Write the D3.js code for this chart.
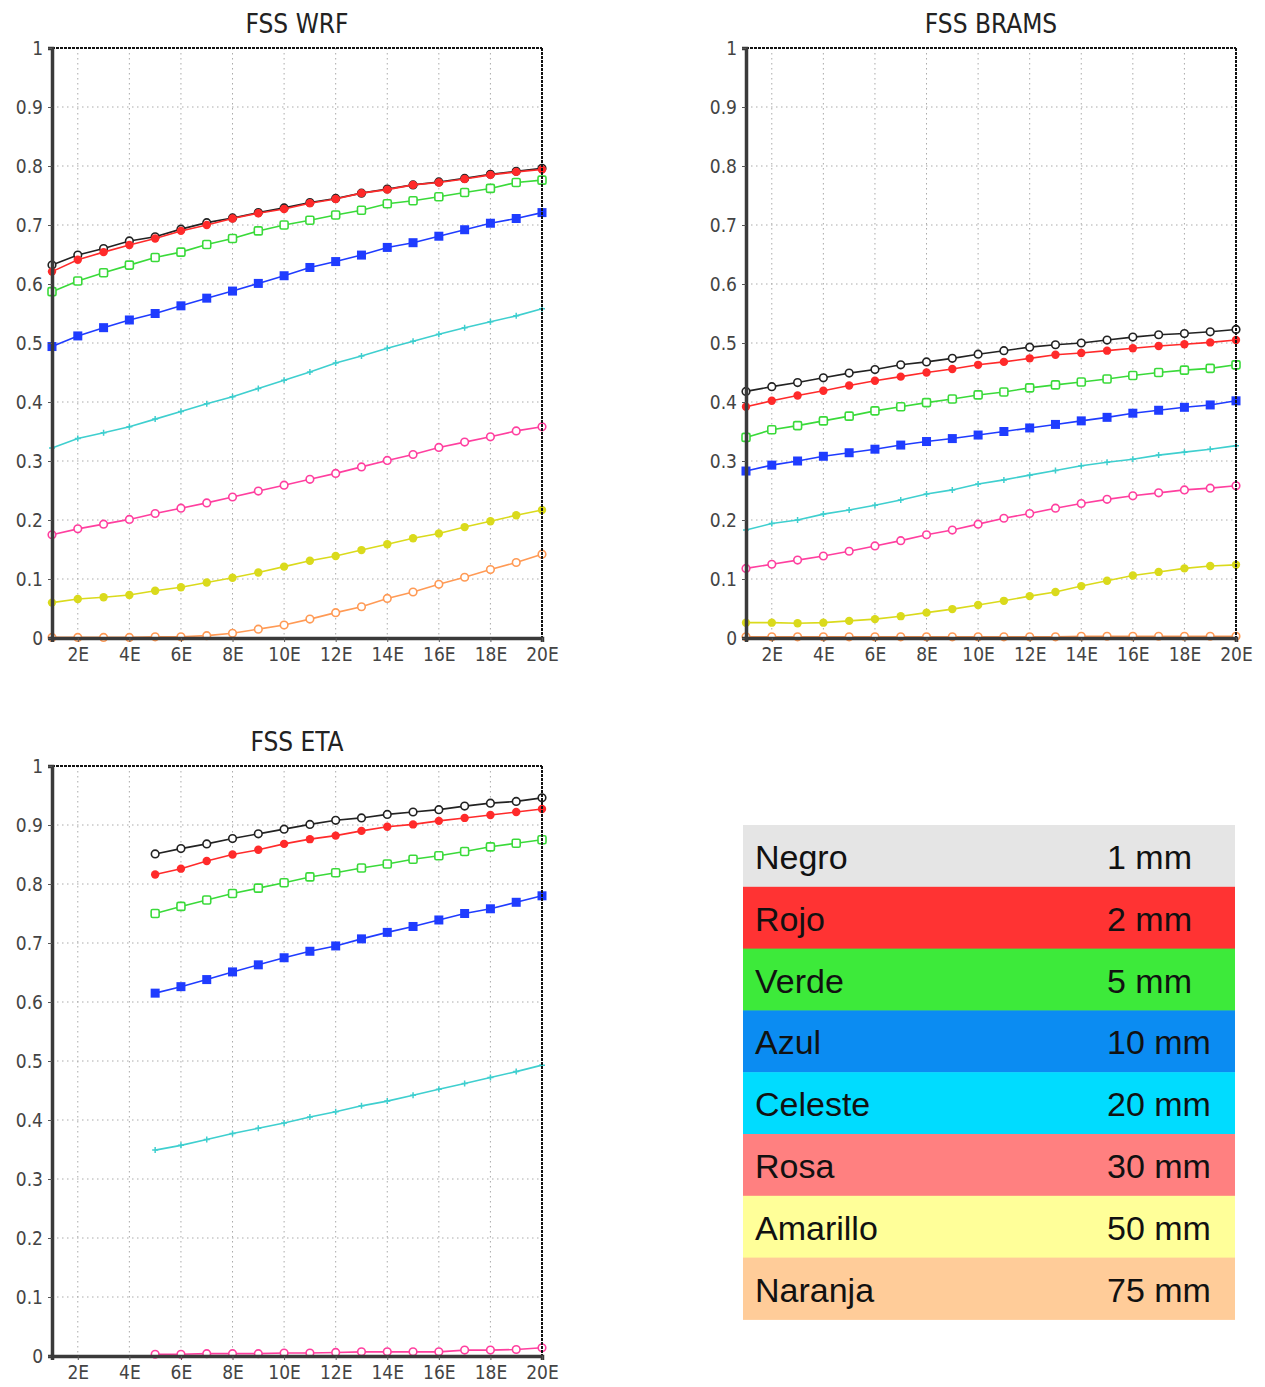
<!DOCTYPE html>
<html lang="es">
<head>
<meta charset="UTF-8">
<title>FSS</title>
<script src="https://d3js.org/d3.v7.min.js"></script>
<style>
  body { margin: 0; background: #fff; }
  text { font-family: "DejaVu Sans Condensed", "DejaVu Sans", sans-serif; }
  .leg { font-family: "Liberation Sans", Arial, sans-serif; }
</style>
</head>
<body>
<script>
// lead times (days), x axis
var leads = [1,2,3,4,5,6,7,8,9,10,11,12,13,14,15,16,17,18,19,20];
var xTicks = [2,4,6,8,10,12,14,16,18,20];
var yTicks = [0,0.1,0.2,0.3,0.4,0.5,0.6,0.7,0.8,0.9,1];

var names = ["Negro","Rojo","Verde","Azul","Celeste","Rosa","Amarillo","Naranja"];
var thresholds = ["1 mm","2 mm","5 mm","10 mm","20 mm","30 mm","50 mm","75 mm"];
var legendColors = ["#e5e5e5","#ff3333","#3dea3a","#0b8cf2","#00dcff","#ff8080","#ffff99","#ffcc99"];
var lineColors = ["#222","#ff2a2a","#3ada3a","#1f3cff","#3fcfcf","#ff3f9f","#dada1c","#ff9a55"];
var markers = ["ocircle","circle","osquare","square","plus","ocircle","circle","ocircle"];

// FSS WRF
var wrfNegro   = [0.632,0.649,0.660,0.673,0.680,0.693,0.704,0.712,0.721,0.729,0.738,0.745,0.754,0.761,0.768,0.773,0.779,0.786,0.791,0.796];
var wrfRojo    = [0.621,0.641,0.654,0.666,0.677,0.690,0.700,0.711,0.720,0.727,0.737,0.744,0.754,0.760,0.768,0.772,0.778,0.785,0.790,0.794];
var wrfVerde   = [0.587,0.605,0.619,0.632,0.645,0.654,0.667,0.677,0.690,0.700,0.708,0.717,0.725,0.736,0.741,0.748,0.755,0.762,0.772,0.776];
var wrfAzul    = [0.494,0.512,0.526,0.539,0.550,0.563,0.576,0.588,0.601,0.614,0.628,0.638,0.649,0.662,0.670,0.681,0.692,0.703,0.711,0.721];
var wrfCeleste = [0.322,0.338,0.348,0.358,0.371,0.384,0.397,0.409,0.423,0.437,0.451,0.466,0.478,0.491,0.503,0.515,0.526,0.536,0.546,0.558];
var wrfRosa    = [0.175,0.185,0.193,0.201,0.211,0.220,0.229,0.239,0.249,0.259,0.269,0.279,0.290,0.301,0.311,0.323,0.332,0.341,0.351,0.358];
var wrfAmarillo= [0.060,0.066,0.069,0.073,0.080,0.086,0.094,0.102,0.111,0.121,0.131,0.139,0.149,0.159,0.169,0.177,0.188,0.198,0.208,0.217];
var wrfNaranja = [0.001,0.001,0.001,0.001,0.002,0.002,0.004,0.008,0.015,0.022,0.032,0.043,0.053,0.067,0.078,0.091,0.103,0.116,0.128,0.142];

// FSS BRAMS
var bramsNegro   = [0.418,0.426,0.433,0.441,0.449,0.455,0.463,0.468,0.474,0.481,0.487,0.493,0.497,0.500,0.505,0.510,0.514,0.516,0.519,0.523];
var bramsRojo    = [0.392,0.402,0.411,0.419,0.428,0.436,0.443,0.450,0.456,0.463,0.468,0.474,0.480,0.483,0.487,0.491,0.495,0.498,0.501,0.505];
var bramsVerde   = [0.340,0.353,0.360,0.368,0.376,0.385,0.392,0.399,0.405,0.412,0.417,0.424,0.429,0.434,0.439,0.445,0.450,0.454,0.457,0.463];
var bramsAzul    = [0.283,0.293,0.300,0.308,0.314,0.320,0.327,0.333,0.338,0.344,0.350,0.356,0.362,0.368,0.374,0.381,0.386,0.391,0.395,0.402];
var bramsCeleste = [0.183,0.194,0.200,0.210,0.217,0.225,0.234,0.244,0.251,0.261,0.268,0.276,0.284,0.292,0.298,0.303,0.310,0.315,0.320,0.326];
var bramsRosa    = [0.118,0.125,0.132,0.139,0.147,0.156,0.165,0.175,0.183,0.193,0.203,0.211,0.220,0.228,0.235,0.241,0.246,0.251,0.254,0.258];
var bramsAmarillo= [0.026,0.026,0.025,0.026,0.029,0.032,0.037,0.043,0.049,0.056,0.063,0.071,0.078,0.088,0.097,0.106,0.112,0.118,0.122,0.124];
var bramsNaranja = [0.002,0.002,0.002,0.002,0.002,0.002,0.002,0.002,0.002,0.002,0.002,0.002,0.002,0.003,0.003,0.003,0.003,0.003,0.003,0.003];

// FSS ETA (no data before day 5)
var etaNegro   = [null,null,null,null,0.851,0.860,0.868,0.877,0.885,0.893,0.901,0.908,0.912,0.918,0.922,0.926,0.932,0.937,0.940,0.946];
var etaRojo    = [null,null,null,null,0.816,0.826,0.839,0.850,0.858,0.868,0.876,0.882,0.890,0.897,0.901,0.907,0.912,0.917,0.922,0.927];
var etaVerde   = [null,null,null,null,0.750,0.762,0.773,0.784,0.793,0.802,0.812,0.819,0.827,0.834,0.842,0.848,0.855,0.863,0.869,0.875];
var etaAzul    = [null,null,null,null,0.615,0.626,0.638,0.651,0.663,0.675,0.686,0.695,0.707,0.718,0.728,0.739,0.750,0.758,0.769,0.780];
var etaCeleste = [null,null,null,null,0.349,0.357,0.367,0.377,0.386,0.395,0.405,0.414,0.424,0.432,0.442,0.452,0.462,0.472,0.482,0.493];
var etaRosa    = [null,null,null,null,0.003,0.003,0.004,0.004,0.004,0.005,0.005,0.006,0.007,0.007,0.007,0.007,0.010,0.010,0.011,0.014];

var W = 1265, H = 1387;
var svg = d3.select("body").append("svg").attr("width", W).attr("height", H);

var panels = [
  {title: "FSS WRF",   left: 52,  top: 48,  series: [wrfNegro,wrfRojo,wrfVerde,wrfAzul,wrfCeleste,wrfRosa,wrfAmarillo,wrfNaranja]},
  {title: "FSS BRAMS", left: 746, top: 48,  series: [bramsNegro,bramsRojo,bramsVerde,bramsAzul,bramsCeleste,bramsRosa,bramsAmarillo,bramsNaranja]},
  {title: "FSS ETA",   left: 52,  top: 766, series: [etaNegro,etaRojo,etaVerde,etaAzul,etaCeleste,etaRosa]}
];
var pw = 490, ph = 590;

function drawMarker(g, type, color, cx, cy) {
  if (type == "circle") {
    g.append("circle").attr("cx", cx).attr("cy", cy).attr("r", 4.2).attr("fill", color);
  } else if (type == "ocircle") {
    g.append("circle").attr("cx", cx).attr("cy", cy).attr("r", 3.8)
      .attr("fill", "#fff").attr("stroke", color).attr("stroke-width", 1.6);
  } else if (type == "square") {
    g.append("rect").attr("x", cx - 4.5).attr("y", cy - 4.5).attr("width", 9).attr("height", 9).attr("fill", color);
  } else if (type == "osquare") {
    g.append("rect").attr("x", cx - 4).attr("y", cy - 4).attr("width", 8).attr("height", 8).attr("rx", 1.5)
      .attr("fill", "#fff").attr("stroke", color).attr("stroke-width", 1.6);
  } else if (type == "plus") {
    g.append("path").attr("d", "M" + (cx - 3) + "," + cy + "h6M" + cx + "," + (cy - 3) + "v6")
      .attr("stroke", color).attr("stroke-width", 1.5);
  }
}

panels.forEach(function(p) {
  var x = d3.scaleLinear().domain([1, 20]).range([p.left, p.left + pw]);
  var y = d3.scaleLinear().domain([0, 1]).range([p.top + ph, p.top]);
  var g = svg.append("g");

  // grid
  g.selectAll(".hg").data(yTicks.slice(1, -1)).enter().append("line")
    .attr("x1", p.left).attr("x2", p.left + pw)
    .attr("y1", function(d){ return y(d); }).attr("y2", function(d){ return y(d); })
    .attr("stroke", "#aaa").attr("stroke-width", 1).attr("stroke-dasharray", "1.5,3.5");
  g.selectAll(".vg").data(xTicks.slice(0, -1)).enter().append("line")
    .attr("x1", function(d){ return x(d); }).attr("x2", function(d){ return x(d); })
    .attr("y1", p.top).attr("y2", p.top + ph)
    .attr("stroke", "#aaa").attr("stroke-width", 1).attr("stroke-dasharray", "1.5,3.5");

  // series
  p.series.forEach(function(vals, i) {
    var pts = leads.map(function(d, k){ return [d, vals[k]]; }).filter(function(d){ return d[1] != null; });
    var line = d3.line().x(function(d){ return x(d[0]); }).y(function(d){ return y(d[1]); });
    g.append("path").datum(pts).attr("d", line).attr("fill", "none")
      .attr("stroke", lineColors[i]).attr("stroke-width", 1.6);
    pts.forEach(function(d) { drawMarker(g, markers[i], lineColors[i], x(d[0]), y(d[1])); });
  });

  // frame
  g.append("line").attr("x1", p.left).attr("x2", p.left + pw).attr("y1", p.top).attr("y2", p.top)
    .attr("stroke", "#111").attr("stroke-width", 2).attr("stroke-dasharray", "3,1");
  g.append("line").attr("x1", p.left + pw).attr("x2", p.left + pw).attr("y1", p.top).attr("y2", p.top + ph)
    .attr("stroke", "#111").attr("stroke-width", 2).attr("stroke-dasharray", "3,1");

  var yAxis = d3.axisLeft(y).tickValues(yTicks).tickSize(4).tickPadding(5)
    .tickFormat(function(d){ return d == 0 ? "0" : d == 1 ? "1" : d3.format(".1f")(d); });
  var ya = g.append("g").attr("transform", "translate(" + p.left + ",0)").call(yAxis);
  ya.select(".domain").attr("stroke", "#3a3a3a").attr("stroke-width", 3.5);
  ya.selectAll(".tick line").attr("stroke", "#555");
  ya.selectAll("text").attr("font-size", 19).attr("fill", "#444")
    .style("font-family", "'DejaVu Sans Condensed', 'DejaVu Sans', sans-serif");

  var xAxis = d3.axisBottom(x).tickValues(xTicks).tickSize(4).tickPadding(6)
    .tickFormat(function(d){ return d + "E"; });
  var xa = g.append("g").attr("transform", "translate(0," + (p.top + ph) + ")").call(xAxis);
  xa.select(".domain").attr("stroke", "#3a3a3a").attr("stroke-width", 3.5);
  xa.selectAll(".tick line").attr("stroke", "#555");
  xa.selectAll("text").attr("font-size", 19).attr("fill", "#444")
    .style("font-family", "'DejaVu Sans Condensed', 'DejaVu Sans', sans-serif");

  svg.append("text").attr("x", p.left + pw / 2).attr("y", p.top - 15)
    .attr("text-anchor", "middle").attr("font-size", 26).attr("fill", "#222").text(p.title);
});

// legend table
var lx = 743, ly = 825, lw = 492, rh = 61.8;
var leg = svg.append("g");
names.forEach(function(n, i) {
  leg.append("rect").attr("x", lx).attr("y", ly + i * rh).attr("width", lw).attr("height", rh + 0.5)
    .attr("fill", legendColors[i]);
  leg.append("text").attr("class", "leg").attr("x", lx + 12).attr("y", ly + i * rh + 44)
    .attr("font-size", 34).attr("fill", "#111").text(n);
  leg.append("text").attr("class", "leg").attr("x", lx + 364).attr("y", ly + i * rh + 44)
    .attr("font-size", 34).attr("fill", "#111").text(thresholds[i]);
});
</script>
</body>
</html>
